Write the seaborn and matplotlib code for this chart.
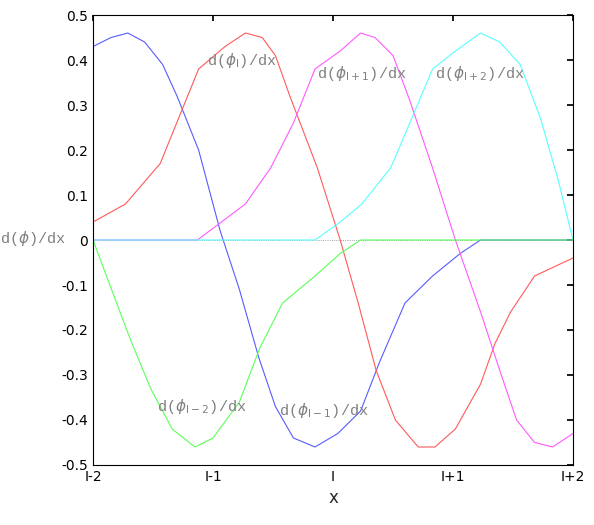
import matplotlib
matplotlib.use("Agg")
import matplotlib.pyplot as plt
import pandas as pd
import seaborn as sns

sns.set_theme(style="white")

# values (x in cell units, I = 0)
blue_x = [-2, -1.85, -1.71, -1.57, -1.42, -1.3, -1.12, -0.94, -0.78, -0.62, -0.48, -0.33, -0.15, 0.04, 0.23, 0.39, 0.6, 0.83, 1.06, 1.23, 2]
blue_y = [0.43, 0.45, 0.46, 0.44, 0.39, 0.32, 0.2, 0.02, -0.11, -0.26, -0.37, -0.44, -0.46, -0.43, -0.38, -0.27, -0.14, -0.08, -0.03, 0.0, 0.0]

red_x = [-2, -1.73, -1.44, -1.12, -0.9, -0.73, -0.59, -0.48, -0.36, -0.13, 0.06, 0.21, 0.36, 0.52, 0.71, 0.85, 1.02, 1.23, 1.35, 1.48, 1.68, 2]
red_y = [0.04, 0.08, 0.17, 0.38, 0.43, 0.46, 0.45, 0.41, 0.32, 0.16, 0.0, -0.14, -0.29, -0.4, -0.46, -0.46, -0.42, -0.32, -0.23, -0.16, -0.08, -0.04]

mag_x = [-2, -1.13, -0.73, -0.52, -0.33, -0.15, 0.06, 0.23, 0.35, 0.5, 0.64, 0.83, 1.02, 1.23, 1.39, 1.53, 1.68, 1.83, 2]
mag_y = [0.0, 0.0, 0.08, 0.16, 0.26, 0.38, 0.42, 0.46, 0.45, 0.41, 0.31, 0.16, 0.0, -0.16, -0.29, -0.4, -0.45, -0.46, -0.43]

cyan_x = [-2, -0.15, 0.06, 0.24, 0.48, 0.64, 0.83, 1.02, 1.23, 1.39, 1.56, 1.73, 1.88, 2]
cyan_y = [0.0, 0.0, 0.04, 0.08, 0.16, 0.26, 0.38, 0.42, 0.46, 0.44, 0.39, 0.27, 0.13, 0.0]

green_x = [-2, -1.86, -1.69, -1.52, -1.34, -1.15, -1.0, -0.78, -0.61, -0.42, -0.15, 0.06, 0.23, 2]
green_y = [0.0, -0.1, -0.22, -0.33, -0.42, -0.46, -0.44, -0.36, -0.24, -0.14, -0.08, -0.03, 0.0, 0.0]

tick_pos = [-2, -1, 0, 1, 2]
tick_lab = ["I-2", "I-1", "I", "I+1", "I+2"]

fig = plt.figure(figsize=(5.94, 5.25), dpi=100)
ax = fig.add_axes([0.1566, 0.1143, 0.808, 0.8571])

ax.axhline(0, color="gray", lw=0.6, ls=":")
for xs, ys, c in [(blue_x, blue_y, "#5a5aff"), (red_x, red_y, "#ff5a5a"),
                  (mag_x, mag_y, "#ff5aff"), (cyan_x, cyan_y, "#5affff"),
                  (green_x, green_y, "#5aff5a")]:
    sns.lineplot(data=pd.DataFrame({"x": xs, "y": ys}), x="x", y="y",
                 color=c, lw=0.8, ax=ax, sort=False)

lab_kw = dict(family="Liberation Mono", color="#808080", fontsize=11)
ax.text(-1.05, 0.39, r"d($\phi_{\rm I}$)/dx", **lab_kw)
ax.text(-0.13, 0.36, r"d($\phi_{\rm I+1}$)/dx", **lab_kw)
ax.text(0.85, 0.36, r"d($\phi_{\rm I+2}$)/dx", **lab_kw)
ax.text(-1.47, -0.38, r"d($\phi_{\rm I-2}$)/dx", **lab_kw)
ax.text(-0.45, -0.39, r"d($\phi_{\rm I-1}$)/dx", **lab_kw)

ax.set_xlim(-2, 2)
ax.set_ylim(-0.5, 0.5)
ax.set_xticks(tick_pos)
ax.set_xticklabels(tick_lab)
ax.set_yticks([i / 10 for i in range(-5, 6)])
ax.set_yticklabels(["-0.5", "-0.4", "-0.3", "-0.2", "-0.1", "0", "0.1", "0.2", "0.3", "0.4", "0.5"])
ax.tick_params(direction="in", top=True, right=True, length=4, labelsize=10, colors="black")
for s in ax.spines.values():
    s.set_color("black")
    s.set_linewidth(0.8)
ax.set_xlabel("x", fontsize=12)
ax.set_ylabel("")
fig.text(0.0, 0.538, r"d($\phi$)/dx", **lab_kw)

fig.savefig("out.png", dpi=100)
